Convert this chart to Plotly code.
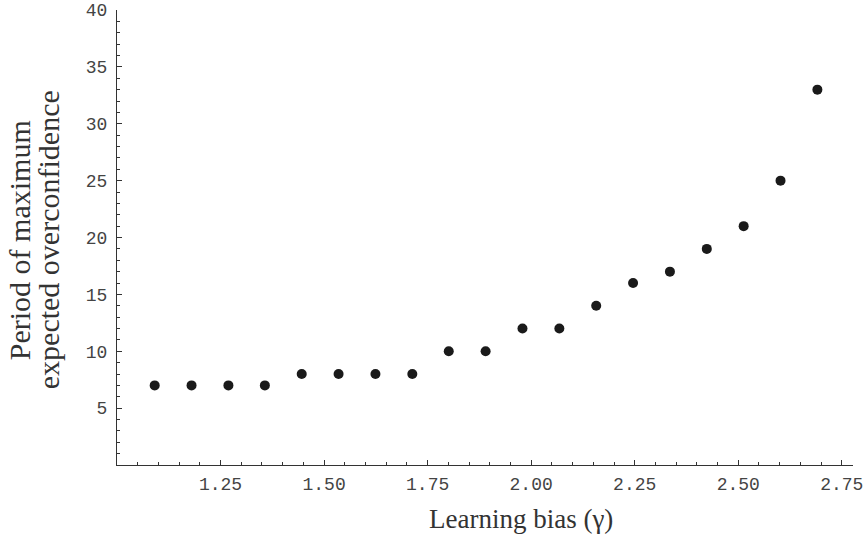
import plotly.graph_objects as go

# Data
gamma = [1.091, 1.180, 1.269, 1.357, 1.446, 1.535, 1.624, 1.713, 1.801, 1.890,
         1.979, 2.068, 2.157, 2.246, 2.335, 2.424, 2.513, 2.602, 2.691]
period = [7, 7, 7, 7, 8, 8, 8, 8, 10, 10, 12, 12, 14, 16, 17, 19, 21, 25, 33]

x_ticks = [1.25, 1.50, 1.75, 2.00, 2.25, 2.50, 2.75]
x_tick_labels = ["1.25", "1.50", "1.75", "2.00", "2.25", "2.50", "2.75"]
y_ticks = [5, 10, 15, 20, 25, 30, 35, 40]
y_tick_labels = ["5", "10", "15", "20", "25", "30", "35", "40"]

x_title = "Learning bias (γ)"
y_title_lines = ["Period of maximum", "expected overconfidence"]

AX = "#333333"
TICKFONT = dict(family="Liberation Mono, Courier New, monospace", size=18, color="#444444")
XTITLEFONT = dict(family="Liberation Serif, Times New Roman, serif", size=27, color="#333333")
YTITLEFONT = dict(family="Liberation Serif, Times New Roman, serif", size=30, color="#333333")

fig = go.Figure()
fig.add_trace(go.Scatter(
    x=gamma, y=period, mode="markers",
    marker=dict(size=10, color="#1a1a1a"),
    showlegend=False, cliponaxis=False,
))

fig.update_layout(
    width=868, height=539,
    margin=dict(l=117, r=15, t=10, b=74, autoexpand=False),
    paper_bgcolor="white", plot_bgcolor="white",
    xaxis=dict(
        range=[1.0, 2.777], showgrid=False, zeroline=False, automargin=False,
        showline=True, linecolor=AX, linewidth=1,
        tickmode="array", tickvals=x_ticks, ticktext=x_tick_labels,
        ticks="inside", ticklen=5, tickwidth=1, tickcolor=AX,
        tickfont=TICKFONT, ticklabelstandoff=2, ticklabeloverflow="allow",
        minor=dict(tickmode="linear", tick0=1.0, dtick=0.05,
                   ticks="inside", ticklen=3, tickwidth=1, tickcolor=AX),
    ),
    yaxis=dict(
        range=[0, 40], showgrid=False, zeroline=False, automargin=False,
        showline=True, linecolor=AX, linewidth=1,
        tickmode="array", tickvals=y_ticks, ticktext=y_tick_labels,
        ticks="inside", ticklen=5, tickwidth=1, tickcolor=AX,
        tickfont=TICKFONT, ticklabelstandoff=5, ticklabeloverflow="allow",
        minor=dict(tickmode="linear", tick0=0, dtick=1,
                   ticks="inside", ticklen=3, tickwidth=1, tickcolor=AX),
    ),
)

fig.add_annotation(text=x_title, xref="paper", yref="paper", x=0.549, y=-0.119,
                   xanchor="center", yanchor="middle", showarrow=False, font=XTITLEFONT)
fig.add_annotation(text=y_title_lines[0], xref="paper", yref="paper", x=0, y=0.494,
                   xshift=-98, xanchor="center", yanchor="middle", textangle=-90,
                   showarrow=False, font=YTITLEFONT)
fig.add_annotation(text=y_title_lines[1], xref="paper", yref="paper", x=0, y=0.494,
                   xshift=-69, xanchor="center", yanchor="middle", textangle=-90,
                   showarrow=False, font=YTITLEFONT)

# remove the browser's default 8px body margin so the figure fills the window
fig.write_html("out.html", config={"displayModeBar": False},
               post_script="document.body.style.margin='0';")
